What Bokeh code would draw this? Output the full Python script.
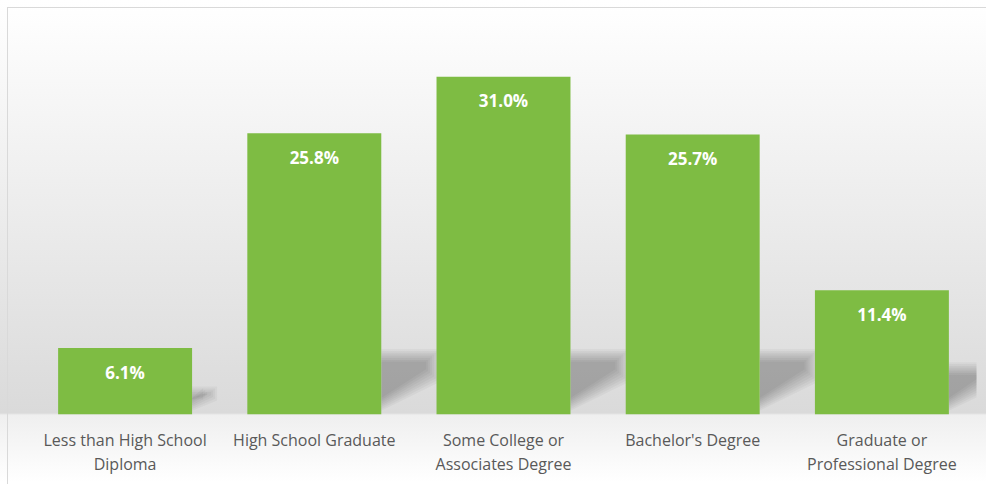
from bokeh.plotting import figure
from bokeh.models import ColumnDataSource, Range1d, FixedTicker
from bokeh.core.properties import value
from bokeh.embed import file_html
from bokeh.resources import INLINE
import numpy as np

categories = ["Less than High School Diploma", "High School Graduate",
              "Some College or Associates Degree", "Bachelor's Degree",
              "Graduate or Professional Degree"]
tick_labels = ["Less than High School\nDiploma", "High School Graduate",
               "Some College or\nAssociates Degree", "Bachelor's Degree",
               "Graduate or\nProfessional Degree"]
shares = [6.1, 25.8, 31.0, 25.7, 11.4]

BAR_W = 0.708
Y_MAX = 36.15
pos = np.arange(len(categories)) + 0.5
vals = np.array(shares)

src = ColumnDataSource(dict(
    x=pos, val=shares, cat=categories,
    lbl=[f"{v:.1f}%" for v in shares],
))

FW, FH = 986, 484
ML, MR, MT, MB = 30, 10, 20, 70
p = figure(width=FW, height=FH, x_range=Range1d(0, len(categories)),
           y_range=Range1d(0, Y_MAX), output_backend="svg", toolbar_location=None,
           min_border_left=ML, min_border_right=MR, min_border_top=MT,
           min_border_bottom=MB)

p.background_fill_alpha = 0
p.border_fill_alpha = 0
p.outline_line_color = None
p.styles = {
    "background-image": ("linear-gradient(#d9d9d9, #d9d9d9), "
                         "linear-gradient(#d9d9d9, #d9d9d9), "
                         "linear-gradient(to bottom, #ffffff 0px, #fdfdfd 25px, "
                         "#dadada 413px, #efefef 415px, #ffffff 482px)"),
    "background-size": "100% 1px, 1px 100%, 100% 100%",
    "background-position": "7px 7px, 7px 7px, 0 0",
    "background-repeat": "no-repeat",
}
p.xgrid.visible = False
p.ygrid.visible = False
p.yaxis.visible = False

# soft, skewed shadows cast to the right of each bar (decoration)
px_x = (FW - ML - MR) / len(categories)   # pixels per x unit
px_y = (FH - MT - MB) / Y_MAX             # pixels per y unit
sh_top = np.minimum(vals * 0.42, 6.0)
sh_w = sh_top * px_y * 0.9 / px_x
right = pos + BAR_W / 2
for k in range(8):
    dx = k * 2.0 / px_x
    dy = k * 1.8 / px_y
    xs, ys = [], []
    for r, t, w in zip(right, sh_top, sh_w):
        bl = 0.35 + dy
        br = 0.5 * t + dy
        xs.append([r, r + w - dx, r + w - dx, r])
        ys.append([t - dy, t - dy, br, bl])
    p.patches(xs=xs, ys=ys, fill_color="black", fill_alpha=0.034, line_color=None)

p.vbar(x="x", top="val", bottom=0, width=BAR_W, source=src,
       fill_color="#7EBC43", line_color=None)

p.text(x="x", y="val", text="lbl", source=src, y_offset=24,
       text_align="center", text_baseline="middle",
       text_font=value("Open Sans"), text_font_style="bold",
       text_font_size="17px", text_color="white")

ax = p.xaxis[0]
ax.ticker = FixedTicker(ticks=list(pos))
ax.major_label_overrides = {float(x): t for x, t in zip(pos, tick_labels)}
ax.axis_line_color = None
ax.major_tick_line_color = None
ax.minor_tick_line_color = None
ax.major_label_standoff = 8
ax.major_label_text_font = "Open Sans"
ax.major_label_text_font_size = "16px"
ax.major_label_text_color = "#595959"
ax.major_label_text_line_height = 1.1

open("out.html", "w").write(file_html(p, INLINE))
